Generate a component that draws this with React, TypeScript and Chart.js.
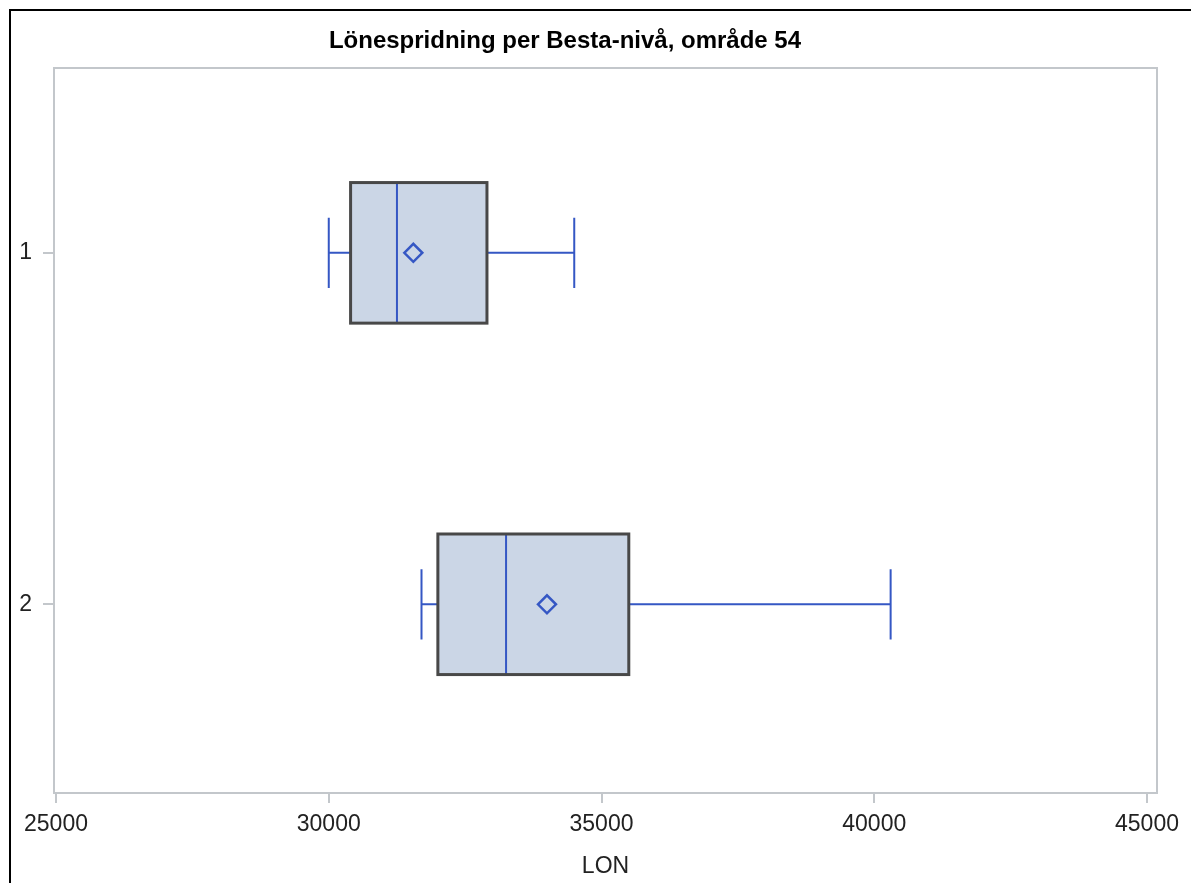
import React, { useEffect, useRef } from "react";
import { Chart, registerables } from "chart.js";

Chart.register(...registerables);

const TITLE = "Lönespridning per Besta-nivå, område 54";
const X_LABEL = "LON";
const categories = ["1", "2"];
const whiskerLow = [30000, 31700];
const q1 = [30400, 32000];
const median = [31250, 33250];
const q3 = [32900, 35500];
const whiskerHigh = [34500, 40300];
const mean = [31550, 34000];
const xTicks = [25000, 30000, 35000, 40000, 45000];

const FONT = "'Liberation Sans', Arial, Helvetica, sans-serif";
const GRAY = "#c3c7cb";
const BLUE = "#3557c4";
const BOX_FILL = "#cbd6e6";
const BOX_EDGE = "#484848";
const BOX_HALF = 0.2;
const CAP_HALF = 0.1;

const boxPlugin = {
  id: "boxPlugin",
  beforeDatasetsDraw(chart: any) {
    const { ctx, chartArea, scales } = chart;
    const xs = scales.x;
    const ys = scales.y;
    ctx.save();
    ctx.strokeStyle = GRAY;
    ctx.lineWidth = 2;
    ctx.strokeRect(chartArea.left, chartArea.top, chartArea.right - chartArea.left, chartArea.bottom - chartArea.top);
    categories.forEach((_, i) => {
      const c = i + 1;
      const yc = ys.getPixelForValue(c);
      const yTop = ys.getPixelForValue(c - BOX_HALF);
      const yBot = ys.getPixelForValue(c + BOX_HALF);
      const cTop = ys.getPixelForValue(c - CAP_HALF);
      const cBot = ys.getPixelForValue(c + CAP_HALF);
      const xLo = xs.getPixelForValue(whiskerLow[i]);
      const xQ1 = xs.getPixelForValue(q1[i]);
      const xMed = xs.getPixelForValue(median[i]);
      const xQ3 = xs.getPixelForValue(q3[i]);
      const xHi = xs.getPixelForValue(whiskerHigh[i]);
      ctx.strokeStyle = BLUE;
      ctx.lineWidth = 2;
      ctx.beginPath();
      ctx.moveTo(xLo, yc);
      ctx.lineTo(xQ1, yc);
      ctx.moveTo(xQ3, yc);
      ctx.lineTo(xHi, yc);
      ctx.moveTo(xLo, cTop);
      ctx.lineTo(xLo, cBot);
      ctx.moveTo(xHi, cTop);
      ctx.lineTo(xHi, cBot);
      ctx.stroke();
      ctx.fillStyle = BOX_FILL;
      ctx.fillRect(xQ1, yTop, xQ3 - xQ1, yBot - yTop);
      ctx.strokeStyle = BLUE;
      ctx.lineWidth = 2;
      ctx.beginPath();
      ctx.moveTo(xMed, yTop);
      ctx.lineTo(xMed, yBot);
      ctx.stroke();
      ctx.strokeStyle = BOX_EDGE;
      ctx.lineWidth = 3;
      ctx.strokeRect(xQ1, yTop, xQ3 - xQ1, yBot - yTop);
    });
    ctx.restore();
  },
  afterDraw(chart: any) {
    const { ctx } = chart;
    ctx.save();
    ctx.fillStyle = "#000";
    ctx.font = `bold 24px ${FONT}`;
    ctx.textAlign = "center";
    ctx.textBaseline = "alphabetic";
    ctx.fillText(TITLE, 565, 48);
    ctx.restore();
  },
};

export default function App() {
  const ref = useRef<HTMLCanvasElement>(null);
  useEffect(() => {
    if (!ref.current) return;
    const chart = new Chart(ref.current, {
      type: "scatter",
      data: {
        datasets: [
          {
            label: "Medel",
            data: mean.map((m, i) => ({ x: m, y: i + 1 })),
            pointStyle: "rectRot",
            pointRadius: 9,
            pointHoverRadius: 9,
            backgroundColor: "rgba(0,0,0,0)",
            borderColor: BLUE,
            borderWidth: 2.5,
          },
        ],
      },
      options: {
        animation: false,
        responsive: false,
        devicePixelRatio: 1,
        layout: { padding: { left: 0, top: 68, right: 34, bottom: 0 } },
        plugins: {
          legend: { display: false },
          title: { display: false },
          tooltip: { enabled: false },
        },
        scales: {
          x: {
            type: "linear",
            min: 24963,
            max: 45183,
            afterBuildTicks: (s: any) => {
              s.ticks = xTicks.map((v) => ({ value: v }));
            },
            afterFit: (s: any) => {
              s.height = 90;
            },
            grid: { drawOnChartArea: false, drawTicks: true, tickLength: 10, color: GRAY, lineWidth: 2 },
            border: { display: false },
            ticks: {
              padding: 8,
              maxRotation: 0,
              autoSkip: false,
              color: "#222",
              font: { family: FONT, size: 23 },
              callback: (v: any) => String(v),
            },
            title: {
              display: true,
              text: X_LABEL,
              color: "#222",
              font: { family: FONT, size: 23 },
              padding: { top: 0, bottom: 3 },
            },
          },
          y: {
            type: "linear",
            reverse: true,
            min: 0.474,
            max: 2.537,
            afterBuildTicks: (s: any) => {
              s.ticks = categories.map((_, i) => ({ value: i + 1 }));
            },
            afterFit: (s: any) => {
              s.width = 54;
            },
            grid: { drawOnChartArea: false, drawTicks: true, tickLength: 11, color: GRAY, lineWidth: 2 },
            border: { display: false },
            ticks: {
              padding: 11,
              autoSkip: false,
              color: "#222",
              font: { family: FONT, size: 23 },
              callback: (v: any) => categories[Math.round(v) - 1] ?? "",
            },
          },
        },
      },
      plugins: [boxPlugin],
    });
    return () => chart.destroy();
  }, []);
  return (
    <div>
      <canvas
        ref={ref}
        width={1191}
        height={883}
        style={{ position: "fixed", left: 0, top: 0, width: 1191, height: 883, background: "#fff" }}
      />
      <div
        style={{
          position: "fixed",
          left: 9,
          top: 9,
          width: 1300,
          height: 1000,
          borderTop: "2px solid #000",
          borderLeft: "2px solid #000",
          pointerEvents: "none",
        }}
      />
    </div>
  );
}
